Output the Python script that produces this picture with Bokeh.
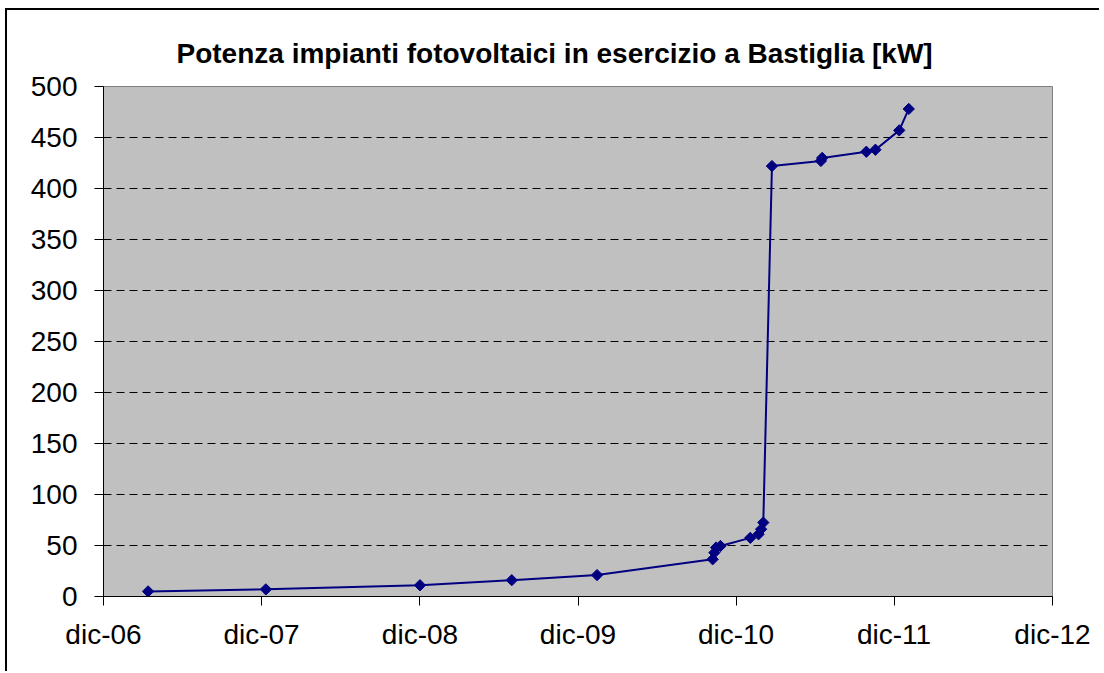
import pandas as pd
from bokeh.plotting import figure
from bokeh.models import FixedTicker, Title, ColumnDataSource
from bokeh.embed import file_html
from bokeh.resources import INLINE

# ---- data ----
dates = ["2007-03-14", "2007-12-11", "2008-12-01", "2009-07-01", "2010-01-14",
         "2010-10-08", "2010-10-12", "2010-10-16", "2010-10-26", "2011-01-03",
         "2011-01-22", "2011-01-28", "2011-02-02", "2011-02-22", "2011-06-15",
         "2011-06-18", "2011-09-28", "2011-10-19", "2011-12-13", "2012-01-04"]
power_kw = [5, 7, 11, 16, 21,
            36.5, 43, 48, 49.5, 57.5,
            61, 66, 72.5, 422, 427,
            430, 436, 438, 457, 478]
tick_dates = ["2006-12-01", "2007-12-01", "2008-12-01", "2009-12-01",
              "2010-12-01", "2011-12-01", "2012-12-01"]
tick_labels = ["dic-06", "dic-07", "dic-08", "dic-09", "dic-10", "dic-11", "dic-12"]
y_ticks = [0, 50, 100, 150, 200, 250, 300, 350, 400, 450, 500]
title_text = "Potenza impianti fotovoltaici in esercizio a Bastiglia [kW]"

x = pd.to_datetime(dates)
src = ColumnDataSource(dict(x=x, y=power_kw))

tick_ms = [float(pd.Timestamp(d).value // 10**6) for d in tick_dates]

FONT = "Liberation Sans"

p = figure(width=1094, height=663, output_backend="svg", toolbar_location=None,
           x_axis_type="datetime",
           x_range=(tick_ms[0], tick_ms[-1]), y_range=(0, 500),
           min_border_left=96, min_border_right=49, min_border_top=76,
           min_border_bottom=77)
p.styles = {"border-left": "2px solid black", "border-top": "2px solid black",
            "margin-left": "5px", "margin-top": "8px"}

p.background_fill_color = "#C0C0C0"
p.border_fill_color = "white"
p.outline_line_color = "#808080"
p.outline_line_width = 1

t = Title(text=title_text, align="left", offset=73, text_font=FONT,
          text_font_size="28px", text_font_style="bold", text_color="black",
          standoff=35)
p.add_layout(t, "above")

# axes
p.xaxis.ticker = FixedTicker(ticks=tick_ms)
p.xaxis.major_label_overrides = {tm: lab for tm, lab in zip(tick_ms, tick_labels)}
p.yaxis.ticker = FixedTicker(ticks=y_ticks)
for ax in (p.xaxis, p.yaxis):
    ax.major_label_text_font = FONT
    ax.major_label_text_font_size = "28px"
    ax.major_label_text_color = "black"
    ax.axis_line_color = "black"
    ax.axis_line_width = 1
    ax.major_tick_line_color = "black"
    ax.major_tick_in = 0
    ax.major_tick_out = 9
    ax.minor_tick_line_color = None
p.yaxis.major_label_standoff = 17
p.xaxis.major_label_standoff = 13

p.xgrid.grid_line_color = None
p.ygrid.grid_line_color = "black"
p.ygrid.grid_line_dash = "8 5"
p.ygrid.grid_line_width = 1

p.line("x", "y", source=src, line_color="#000080", line_width=2)
p.scatter("x", "y", source=src, marker="square", angle=0.7853981634, size=8,
          fill_color="#000080", line_color="#000080")

open("out.html", "w").write(file_html(p, INLINE))
